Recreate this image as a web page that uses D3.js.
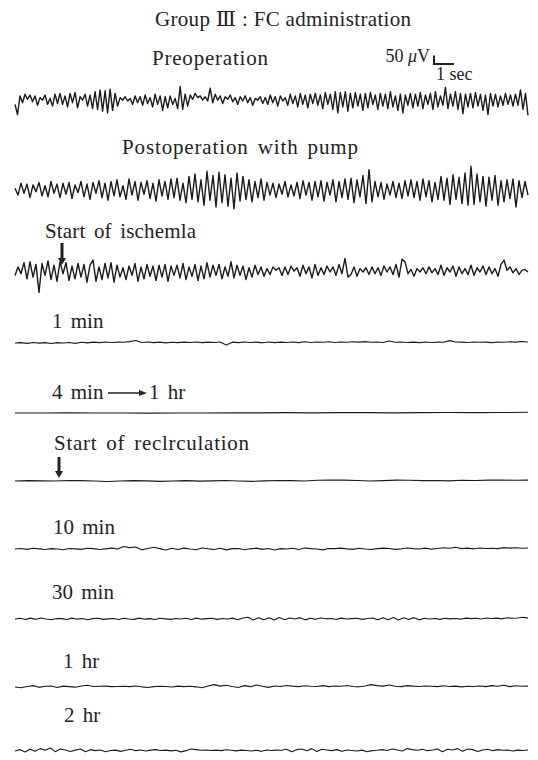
<!DOCTYPE html>
<html>
<head>
<meta charset="utf-8">
<script src="https://cdn.jsdelivr.net/npm/d3@7"></script>
<style>
  body { margin: 0; background: #fff; }
  text { font-family: "Liberation Serif", "DejaVu Serif", serif; fill: #222; }
</style>
</head>
<body>
<div id="chart"></div>
<script>
// EEG samples in microvolts (positive = up)
var preop = [
  -20,-80,30,-10,40,10,35,-5,30,-25,20,5,35,-20,15,-30,40,-15,45,-20,
  30,-35,45,-10,50,-40,25,5,40,-30,35,-45,55,-50,65,-60,60,-70,70,-55,
  45,-30,20,5,25,0,15,-20,30,-10,25,-25,35,-15,20,-35,40,-20,30,-55,
  25,-40,30,-20,15,-45,85,-50,40,-30,35,10,45,20,30,5,25,0,75,-10,
  40,5,30,-15,25,10,35,-5,20,-20,25,0,30,-10,20,-25,15,5,25,-15,
  20,-20,35,-10,25,-30,30,0,20,-25,40,-15,30,-35,45,-20,35,-40,40,-15,
  45,-25,35,-45,50,-20,40,-50,55,-70,50,-35,55,-60,45,-40,50,-30,40,-55,
  45,-40,50,-20,35,-50,45,-30,40,-45,55,-35,30,-55,40,-70,35,-25,45,-40,
  40,-30,50,-45,35,-20,45,-50,55,-35,30,-25,80,-45,40,-30,55,-50,45,-75,
  40,-35,45,-40,50,-30,40,-55,35,-80,45,-30,40,-35,30,-25,45,-20,35,-30,
  40,-25,65,-50,45,-85
];
var postop = [
  10,-30,40,-20,35,-45,30,-10,45,-35,25,-40,50,-20,35,-45,40,
  -25,45,-50,30,-15,50,-40,35,-55,45,-20,55,-45,40,-60,50,-35,
  60,-40,25,-55,65,-30,50,-60,45,-25,55,-50,40,-65,60,-35,50,
  -55,65,-45,70,-60,40,-75,80,-55,95,-70,60,-90,110,-60,85,-100,
  105,-75,90,-95,70,-110,100,-65,80,-55,60,-70,50,-45,65,-60,45,
  -30,40,-45,35,-25,50,-40,30,-35,45,-50,55,-30,45,-60,50,-40,
  55,-65,45,-30,60,-70,50,-45,65,-55,70,-75,60,-40,85,-80,120,
  -70,50,-40,45,-55,35,-30,50,-45,40,-50,55,-35,60,-45,50,-60,
  65,-40,55,-70,45,-55,80,-60,70,-85,90,-55,75,-80,100,-90,140,
  -85,95,-70,80,-95,75,-60,85,-90,55,-70,60,-50,65,-100,55,-45,
  50,-30
];
var ischemia = [
  -20,30,-10,55,-40,60,-30,45,-120,50,-20,65,-45,40,-55,60,-10,
  55,-50,35,-40,50,-30,45,-60,40,70,-55,30,-45,50,-35,55,-60,
  40,-30,25,-45,35,-20,50,-55,30,-40,45,-25,35,-50,40,-30,45,
  -55,35,-20,40,-35,50,-45,30,-25,45,-50,35,-40,55,-30,40,-20,
  45,-40,30,-25,60,-35,40,-20,35,-45,25,-30,40,-15,30,-25,20,
  -15,30,10,25,-20,30,-15,35,5,25,-25,40,-10,30,-35,45,-20,
  25,-15,35,0,30,-20,45,-10,80,-30,-15,30,-25,20,0,25,-15,
  30,-10,25,-20,35,0,30,-15,45,-30,75,60,-10,15,-25,20,0,
  25,-10,30,-5,20,-15,40,-20,25,0,35,-25,30,-10,20,-15,40,
  -20,25,0,35,-15,30,-10,20,-25,45,70,10,30,-5,20,-15,10,
  15,0
];
var min1 = [
  0,2,-2,3,-1,2,-3,2,0,3,-2,4,1,5,2,6,3,5,4,8,15,3,6,2,5,1,4,2,5,3,
  6,2,5,3,6,-12,5,2,6,3,5,1,6,2,5,3,6,2,7,3,6,4,7,3,6,4,7,5,8,4,
  6,3,12,4,6,3,5,2,6,3,5,4,14,6,5,3,6,4,5,2,6,4,7,5,9,6
];
var min4 = [0,0,1,0,0,-1,0,0,1,1,2,1,2,2,1,2,3,2,3,4];
var recirc = [
  0,2,1,0,3,2,0,-3,0,2,1,-2,0,2,-1,1,3,0,-2,1,
  3,2,0,4,6,5,3,0,2,5,4,2,3,1,4,3,5,6,4,5
];
var min10 = [
  0,3,-2,4,1,-3,2,0,-4,3,1,-2,4,2,-3,1,5,0,15,8,12,-5,3,10,2,-6,4,-3,5,0,
  -4,6,1,-3,4,-5,2,3,-4,1,5,-2,3,-6,2,0,4,-3,6,2,0,-5,3,2,5,1,-2,4,0,-3,
  2,5,3,-2,1,6,2,0,5,-1,3,7,4,10,2,5,1,6,3,4,2,8,5,7,4,6
];
var min30 = [
  0,4,-3,5,-2,6,0,-4,3,2,-3,5,-1,3,-4,2,4,-2,1,3,-3,4,0,-2,5,-1,2,-3,4,1,
  -2,3,0,4,-3,5,-1,2,4,-2,3,0,5,-4,6,10,-6,8,-5,7,-6,9,-4,6,0,8,-5,4,-2,6,
  1,3,-3,5,0,2,4,-2,3,6,-5,8,-4,9,-6,7,-3,8,-5,4,0,3,-2,4,1,3,-1,5,2,4,
  0,6,3,5,1,7,4,6,10,5
];
var hr1 = [
  0,-4,3,8,-2,4,6,-3,5,2,-1,6,10,3,4,5,2,3,4,2,6,1,-3,2,4,3,0,5,2,4,
  1,-4,6,14,5,10,3,-3,8,2,12,4,-2,6,3,9,5,2,7,4,3,8,2,6,4,9,3,1,6,14,
  8,5,12,4,2,8,5,3,6,4,2,7,3,5,1,4,3,6,2,8,4,10,2,7,4,5
];
var hr2 = [
  0,8,-6,10,-2,14,4,18,-4,12,6,-3,5,12,-5,8,2,6,-4,3,5,-2,4,10,2,6,0,5,8,3,
  5,1,4,-5,2,12,8,4,6,3,5,2,7,4,1,5,3,0,4,-2,6,3,5,4,10,-4,8,12,2,14,
  -3,10,6,2,8,-2,6,3,0,5,-4,2,4,8,3,12,6,0,14,8,4,10,2,6,12,-4,10,6,14,-2,
  12,8,-3,6,10,2,8,4,6,0,5,3,6
];

var traceData = [preop, postop, ischemia, min1, min4, recirc, min10, min30, hr1, hr2];
var traceLabels = ["Preoperation", "Postoperation with pump", "Start of ischemla", "1 min",
                   "4 min", "Start of reclrculation", "10 min", "30 min", "1 hr", "2 hr"];
var recordSec = 25.65;   // length of each strip in seconds

var width = 538, height = 760;
var baselines = [101, 190, 272, 343, 413, 481, 549, 619, 687, 751];
var labelX = [152, 122, 45, 52, 52, 54, 53, 52, 63, 64];
var labelY = [65, 154, 238, 328, 399, 450, 534, 599, 668, 722];
var labelW = [116, 236, 151, 0, 0, 195, 0, 0, 0, 0];   // 0 = natural width

var svg = d3.select("#chart").append("svg")
  .attr("width", width)
  .attr("height", height);

var t = d3.scaleLinear().domain([0, recordSec]).range([15, 528]);
var amp = d3.scaleLinear().domain([0, 50]).range([0, 8.5]);   // 50 uV -> px

svg.append("text")
  .attr("x", 155).attr("y", 26)
  .attr("textLength", 256).attr("lengthAdjust", "spacing")
  .style("font-size", "21px")
  .text("Group Ⅲ : FC administration");

// traces
traceData.forEach(function(vals, k) {
  var x = d3.scaleLinear().domain([0, vals.length - 1]).range([t(0), t(recordSec)]);
  var line = d3.line()
    .x(function(d, i) { return x(i); })
    .y(function(d) { return baselines[k] - amp(d); });
  svg.append("path")
    .datum(vals)
    .attr("d", line)
    .attr("fill", "none")
    .attr("stroke", "#1a1a1a")
    .attr("stroke-width", k < 3 ? 1.4 : 1.1)
    .attr("stroke-linejoin", "round");

  var lbl = svg.append("text")
    .attr("x", labelX[k]).attr("y", labelY[k])
    .style("font-size", "21px")
    .style("word-spacing", "3px")
    .text(traceLabels[k]);
  if (labelW[k]) lbl.attr("textLength", labelW[k]).attr("lengthAdjust", "spacing");
});

// "4 min -> 1 hr"
svg.append("line")
  .attr("x1", 108).attr("x2", 140).attr("y1", 393).attr("y2", 393)
  .attr("stroke", "#222").attr("stroke-width", 1.5);
svg.append("path").attr("d", "M139,390 L147,393 L139,396 Z").attr("fill", "#222");
svg.append("text").attr("x", 149).attr("y", 399)
  .style("font-size", "21px").style("word-spacing", "3px").text("1 hr");

// event arrows
function downArrow(x, y0, y1) {
  svg.append("rect").attr("x", x - 1.5).attr("y", y0).attr("width", 3).attr("height", y1 - y0 - 6).attr("fill", "#222");
  svg.append("path").attr("d", "M" + (x - 4) + "," + (y1 - 7) + " L" + (x + 4) + "," + (y1 - 7) + " L" + x + "," + y1 + " Z").attr("fill", "#222");
}
downArrow(62, 243, 265);
downArrow(59, 457, 478);

// calibration bar: 50 uV / 1 sec
var cx = 434, cy = 64;
svg.append("path")
  .attr("d", "M" + cx + "," + (cy - amp(50)) + " L" + cx + "," + cy + " L" + (cx + t(1) - t(0)) + "," + cy)
  .attr("fill", "none").attr("stroke", "#222").attr("stroke-width", 2);
var cal = svg.append("text").attr("x", 430).attr("y", 62)
  .attr("text-anchor", "end")
  .style("font-size", "18px");
cal.append("tspan").text("50 ");
cal.append("tspan").style("font-style", "italic").text("μ");
cal.append("tspan").text("V");
svg.append("text").attr("x", 436).attr("y", 80)
  .style("font-size", "18px").text("1 sec");
</script>
</body>
</html>
